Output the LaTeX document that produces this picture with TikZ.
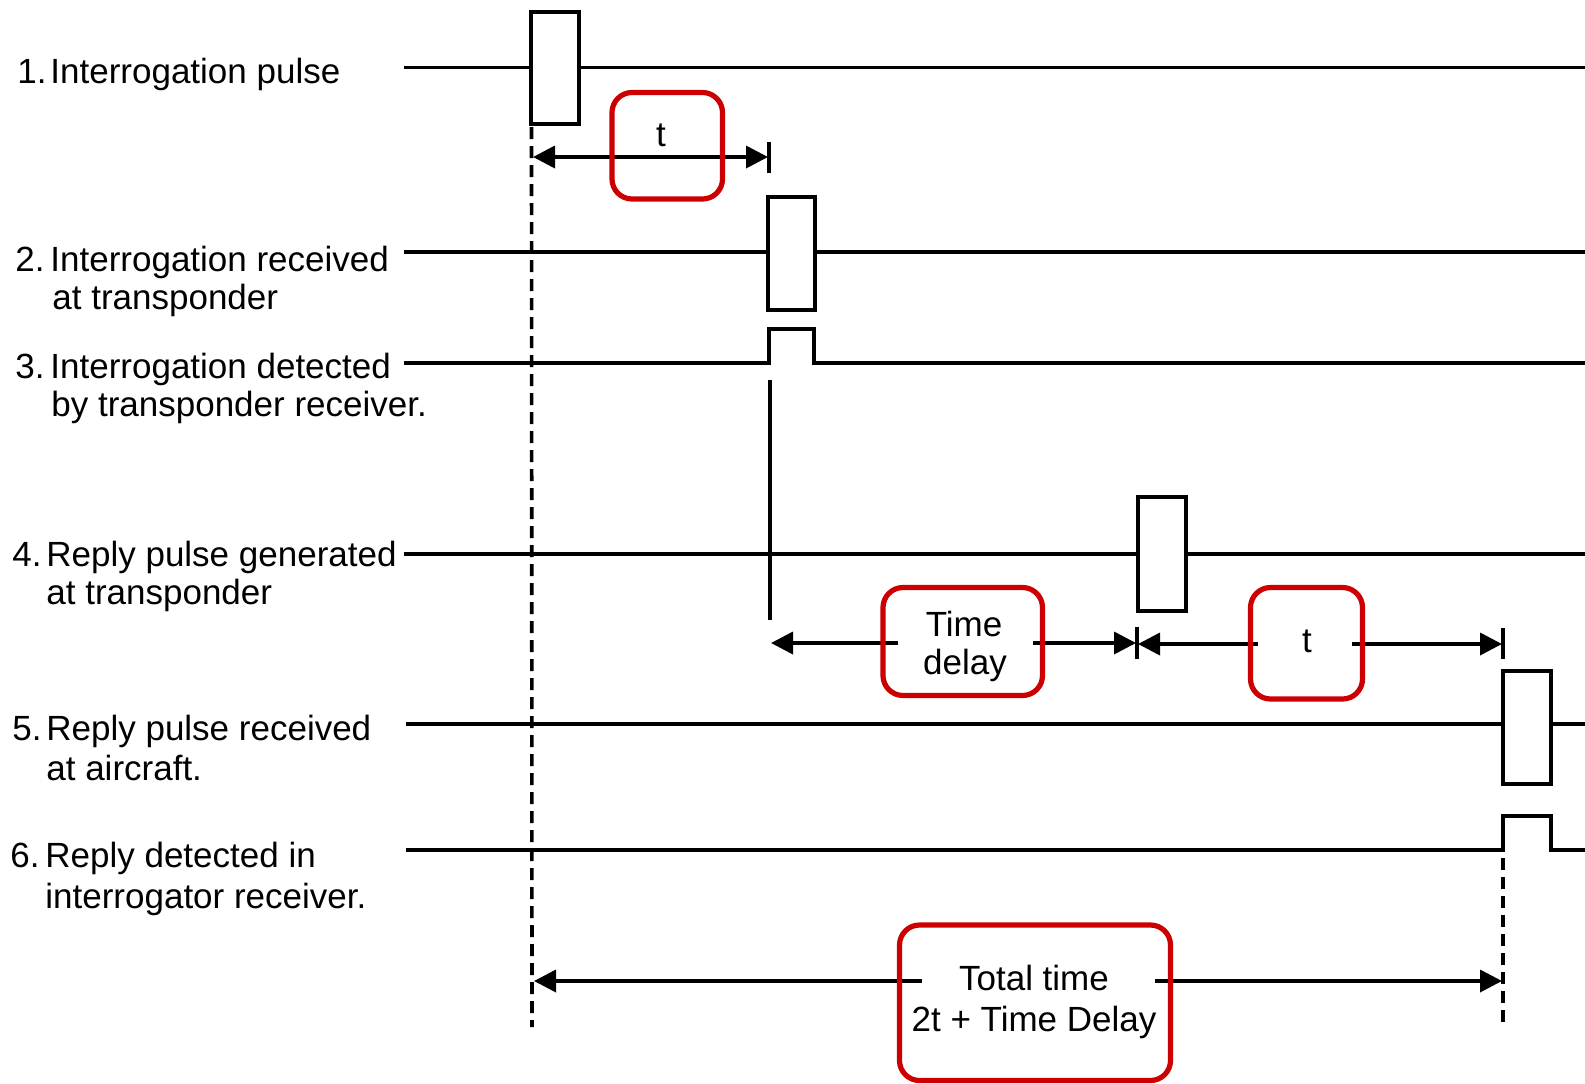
\documentclass[tikz,border=0pt]{standalone}
\usepackage{fontspec}
\setmainfont{Liberation Sans}
\usetikzlibrary{arrows.meta}
\definecolor{hlred}{HTML}{CC0000}
\begin{document}
\begin{tikzpicture}[x=0.5pt,y=-0.5pt,
  sig/.style={line width=1.9pt, line join=miter},
  dashv/.style={line width=1.8pt, dash pattern=on 6pt off 3.5pt},
  dimarrow/.style={line width=1.8pt, -{Triangle[length=11pt,width=11pt]}},
  ticks/.style={line width=1.8pt},
  lbl/.style={font=\fontsize{17.5}{20.5}\selectfont, inner sep=0pt, anchor=base west},
  tag/.style={font=\fontsize{17.5}{20.5}\selectfont, inner sep=0pt, anchor=base},
  hl/.style={draw=hlred, line width=2.6pt, rounded corners=10pt}
]
\useasboundingbox (0,0) rectangle (1585,1083);

% ---------- labels ----------
\node[lbl] (n1) at (17,83) {1.};
\node[lbl] (l1a) at (50,83) {Interrogation pulse};
\node[lbl] (n2) at (15,271) {2.};
\node[lbl] (l2a) at (50,271) {Interrogation received};
\node[lbl] (l2b) at (52,309) {at transponder};
\node[lbl] (n3) at (15,378) {3.};
\node[lbl] (l3a) at (50,378) {Interrogation detected};
\node[lbl] (l3b) at (51,416) {by transponder receiver.};
\node[lbl] (n4) at (12,566) {4.};
\node[lbl] (l4a) at (46,566) {Reply pulse generated};
\node[lbl] (l4b) at (46,604) {at transponder};
\node[lbl] (n5) at (12,740) {5.};
\node[lbl] (l5a) at (46,740) {Reply pulse received};
\node[lbl] (l5b) at (46,780) {at aircraft.};
\node[lbl] (n6) at (10,867) {6.};
\node[lbl] (l6a) at (45,867) {Reply detected in};
\node[lbl] (l6b) at (45,908) {interrogator receiver.};

% ---------- signal traces ----------
% 1. interrogation pulse
\draw[sig] (404,67.5) -- (531,67.5);
\draw[sig] (531,12) rectangle (579,124);
\draw[sig] (579,67.5) -- (1585,67.5);
% 2. received at transponder
\draw[sig] (404,252) -- (768,252);
\draw[sig] (768,197) rectangle (815,310);
\draw[sig] (815,252) -- (1585,252);
% 3. detected by transponder receiver
\draw[sig] (404,363) -- (769,363) -- (769,329) -- (814,329) -- (814,363) -- (1585,363);
\draw[sig] (770,380) -- (770,620);
% 4. reply generated
\draw[sig] (404,554) -- (1138,554);
\draw[sig] (1138,497) rectangle (1186,611);
\draw[sig] (1186,554) -- (1585,554);
% 5. reply received at aircraft
\draw[sig] (406,724) -- (1503,724);
\draw[sig] (1503,671) rectangle (1551,784);
\draw[sig] (1551,724) -- (1585,724);
% 6. reply detected in interrogator receiver
\draw[sig] (406,850) -- (1503,850) -- (1503,816) -- (1551,816) -- (1551,850) -- (1585,850);

% ---------- reference lines ----------
\draw[dashv] (531.5,127) -- (532,1027);
\draw[dashv] (1503,858) -- (1503,1027);

% ---------- t (first) ----------
\coordinate (t1m) at (660,157);
\draw[dimarrow] (t1m) -- (533,157);
\draw[dimarrow] (t1m) -- (768,157);
\draw[ticks] (769,142) -- (769,173);
\node[tag] (t1) at (661,146) {t};

% ---------- time delay ----------
\draw[dimarrow] (898,643) -- (771,643);
\draw[dimarrow] (1033,643) -- (1136,643);
\draw[ticks] (1137,627) -- (1137,659);
\node[tag] (td1) at (964,636) {Time};
\node[tag] (td2) at (965,674) {delay};

% ---------- t (second) ----------
\draw[dimarrow] (1258,644) -- (1138,644);
\draw[dimarrow] (1352,644) -- (1502,644);
\draw[ticks] (1503,628) -- (1503,659);
\node[tag] (t2) at (1307,652) {t};

% ---------- total time ----------
\draw[dimarrow] (922,981) -- (534,981);
\draw[dimarrow] (1155,981) -- (1502,981);
\node[tag] (tt1) at (1034,990) {Total time};
\node[tag] (tt2) at (1034,1031) {2t + Time Delay};

% ---------- highlight boxes ----------
\draw[hl] (612,92.5) rectangle (722.5,199);
\draw[hl] (883,587.5) rectangle (1042.5,695.5);
\draw[hl] (1250.5,587.5) rectangle (1362.5,699);
\draw[hl] (899.5,925) rectangle (1170.5,1080.5);
\end{tikzpicture}
\end{document}
